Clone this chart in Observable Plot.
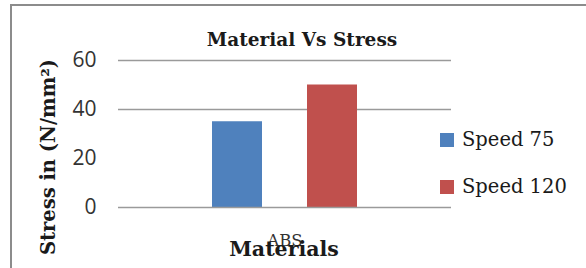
<!DOCTYPE html>
<html><head><meta charset="utf-8">
<script src="https://cdn.jsdelivr.net/npm/d3@7"></script>
<script src="https://cdn.jsdelivr.net/npm/@observablehq/plot@0.6"></script>
<style>
body{margin:0;background:#fff;}
#wrap{position:relative;width:586px;height:268px;overflow:hidden;background:#fff;}
#frame{position:absolute;left:10px;top:4px;width:700px;height:400px;border:2px solid #8c8c8c;box-sizing:border-box;}
#chart{position:absolute;left:0;top:0;}
.t{position:absolute;font-family:"DejaVu Serif",serif;color:#1a1a1a;white-space:nowrap;}
#title{left:0;width:604px;text-align:center;top:29px;font-size:18.5px;font-weight:bold;}
#ylab{left:48px;top:157px;font-size:19.5px;font-weight:bold;transform:translate(-50%,-50%) rotate(-90deg);}
#xlab{left:0;width:568px;text-align:center;top:237px;font-size:20.5px;font-weight:bold;}
.leg{position:absolute;left:440px;display:flex;align-items:center;font-family:"DejaVu Serif",serif;font-size:19.5px;color:#1a1a1a;white-space:nowrap;}
.sw{width:14px;height:14px;margin-right:8px;}
#chart svg text{font-family:"DejaVu Serif",serif;font-size:16.5px;fill:#333;}
#chart svg g[aria-label^="y-axis"] text{font-family:"Open Sans",sans-serif;font-size:21px;fill:#333;}
</style></head>
<body>
<div id="wrap">
<div id="frame"></div>
<div id="chart"></div>
<div class="t" id="title"></div>
<div class="t" id="ylab"></div>
<div class="t" id="xlab"></div>
</div>
<script>
const materials = ["ABS"];
const series = ["Speed 75", "Speed 120"];
const speed75 = [35];
const speed120 = [50];
const yTicks = [0, 20, 40, 60];
const gridLines = [40, 60];
const colors = ["#4f81bd", "#c0504d"];
const titleText = "Material Vs Stress";
const yLabel = "Stress  in (N/mm\u00b2)";
const xLabel = "Materials";

const data = [];
materials.forEach((m, i) => {
  data.push({material: m, series: series[0], value: speed75[i]});
  data.push({material: m, series: series[1], value: speed120[i]});
});

const chart = Plot.plot({
  width: 586, height: 268,
  marginTop: 60, marginBottom: 61, marginLeft: 118, marginRight: 135,
  style: {background: "transparent"},
  fx: {domain: materials, padding: 0, label: null, axis: "bottom", tickSize: 0, tickPadding: 27},
  x: {domain: series, paddingInner: 0.469, paddingOuter: 0.969, axis: null},
  y: {domain: [0, 60], ticks: yTicks, label: null, tickSize: 0, tickPadding: 22},
  color: {domain: series, range: colors},
  marks: [
    Plot.ruleY(gridLines, {stroke: "#9a9a9a", strokeWidth: 1.5}),
    Plot.barY(data, {fx: "material", x: "series", y: "value", fill: "series"}),
    Plot.ruleY([0], {stroke: "#9a9a9a", strokeWidth: 1.5})
  ]
});
document.getElementById("chart").appendChild(chart);
document.getElementById("title").textContent = titleText;
document.getElementById("ylab").textContent = yLabel;
document.getElementById("xlab").textContent = xLabel;

const wrap = document.getElementById("wrap");
const legTops = [128, 175];
series.forEach((s, i) => {
  const d = document.createElement("div");
  d.className = "leg";
  d.style.top = legTops[i] + "px";
  const sw = document.createElement("div");
  sw.className = "sw";
  sw.style.background = colors[i];
  const tx = document.createElement("span");
  tx.textContent = s;
  d.appendChild(sw); d.appendChild(tx);
  wrap.appendChild(d);
});
</script>
</body></html>
